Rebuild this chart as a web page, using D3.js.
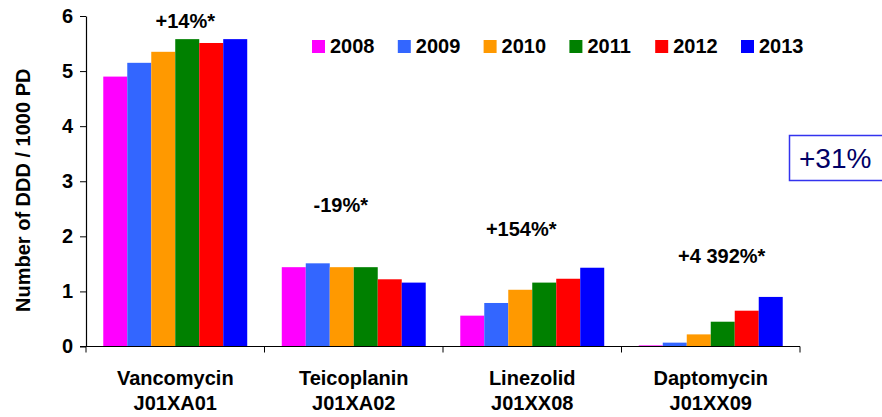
<!DOCTYPE html>
<html lang="en">
<head>
    <meta charset="UTF-8">
    <title>DDD per 1000 PD, 2008-2013</title>
    <script src="https://d3js.org/d3.v7.min.js"></script>
    <style>
        body { margin: 0; background: #fff; }
        svg text { font-family: "Liberation Sans", Arial, Helvetica, sans-serif; }
    </style>
</head>
<body>

<div id="chart"></div>
<script>

  // Data
  const drugs = ["Vancomycin", "Teicoplanin", "Linezolid", "Daptomycin"];
  const atcCodes = ["J01XA01", "J01XA02", "J01XX08", "J01XX09"];
  const years = ["2008", "2009", "2010", "2011", "2012", "2013"];
  const yearColors = ["#ff00ff", "#3366ff", "#ff9900", "#008000", "#ff0000", "#0000ff"];
  const values = [
    [4.90, 5.15, 5.35, 5.58, 5.51, 5.58],  // Vancomycin
    [1.44, 1.51, 1.44, 1.44, 1.22, 1.16],  // Teicoplanin
    [0.56, 0.79, 1.03, 1.16, 1.23, 1.43],  // Linezolid
    [0.02, 0.07, 0.22, 0.45, 0.65, 0.90]   // Daptomycin
  ];
  const changeLabels = ["+14%*", "-19%*", "+154%*", "+4 392%*"];
  const changeLevels = [5.78, 2.45, 2.0, 1.51];  // where the labels sit, in axis units
  const yTicks = [0, 1, 2, 3, 4, 5, 6];
  const totalChange = "+31%";

  const width = 882, height = 417;
  const margin = { top: 16, right: 82, bottom: 70, left: 86 };

  const svg = d3.select("#chart")
    .append("svg")
      .attr("width", width)
      .attr("height", height);

  // Scales
  const x0 = d3.scaleBand()
    .domain(drugs)
    .range([margin.left, width - margin.right])
    .padding(0);

  const x1 = d3.scaleBand()
    .domain(years)
    .range([0, x0.bandwidth()])
    .paddingInner(0)
    .paddingOuter(0.72);

  const y = d3.scaleLinear()
    .domain([0, 6])
    .range([height - margin.bottom - 0.5, margin.top]);

  // Bars
  const groups = svg.selectAll(".drug")
    .data(drugs)
    .join("g")
      .attr("class", "drug")
      .attr("transform", d => `translate(${x0(d)},0)`);

  groups.selectAll("rect")
    .data((d, i) => years.map((yr, j) => ({ year: yr, value: values[i][j], color: yearColors[j] })))
    .join("rect")
      .attr("x", d => x1(d.year))
      .attr("y", d => y(d.value))
      .attr("width", x1.bandwidth())
      .attr("height", d => y(0) - y(d.value))
      .attr("fill", d => d.color);

  // Y axis
  const yAxis = svg.append("g")
    .attr("transform", `translate(${margin.left},0)`)
    .call(d3.axisLeft(y).tickValues(yTicks).tickFormat(d3.format("d"))
      .tickSize(6).tickPadding(7).tickSizeOuter(0));
  yAxis.select(".domain").attr("stroke", "#000").attr("stroke-width", 1.2);
  yAxis.selectAll(".tick line").attr("stroke", "#000");
  yAxis.selectAll(".tick text")
    .attr("fill", "#000")
    .style("font-size", "20px")
    .style("font-weight", "bold");

  // X axis: baseline plus boundary ticks between categories
  const xAxis = svg.append("g")
    .attr("transform", `translate(0,${y(0)})`);
  xAxis.append("line")
    .attr("x1", margin.left - 6)
    .attr("x2", x0.range()[1])
    .attr("stroke", "#000")
    .attr("stroke-width", 1.2);
  const boundaries = drugs.map(d => x0(d)).concat([x0.range()[1]]);
  xAxis.selectAll(".bound")
    .data(boundaries)
    .join("line")
      .attr("class", "bound")
      .attr("x1", d => d).attr("x2", d => d)
      .attr("y1", 0).attr("y2", 6)
      .attr("stroke", "#000");

  // Category labels (two lines)
  const catLabels = svg.selectAll(".cat")
    .data(drugs)
    .join("text")
      .attr("class", "cat")
      .attr("text-anchor", "middle")
      .style("font-size", "20px")
      .style("font-weight", "bold")
      .attr("fill", "#000");
  catLabels.append("tspan")
    .attr("x", d => x0(d) + x0.bandwidth() / 2)
    .attr("y", 385)
    .text(d => d);
  catLabels.append("tspan")
    .attr("x", d => x0(d) + x0.bandwidth() / 2)
    .attr("y", 410)
    .text((d, i) => atcCodes[i]);

  // Y axis title
  svg.append("text")
    .attr("transform", `translate(30,${(margin.top + y(0)) / 2 + 9}) rotate(-90)`)
    .attr("text-anchor", "middle")
    .style("font-size", "20px")
    .style("font-weight", "bold")
    .attr("fill", "#000")
    .text("Number of DDD / 1000 PD");

  // Change annotations
  const labelShift = [10, -13, -11, 11];
  svg.selectAll(".chg")
    .data(drugs)
    .join("text")
      .attr("class", "chg")
      .attr("text-anchor", "middle")
      .attr("x", (d, i) => x0(d) + x0.bandwidth() / 2 + labelShift[i])
      .attr("y", (d, i) => y(changeLevels[i]))
      .style("font-size", "20px")
      .style("font-weight", "bold")
      .attr("fill", "#000")
      .text((d, i) => changeLabels[i]);

  // Legend
  const legend = svg.append("g")
    .attr("transform", "translate(312,40)");
  const item = legend.selectAll(".item")
    .data(years)
    .join("g")
      .attr("class", "item")
      .attr("transform", (d, i) => `translate(${i * 85.8},0)`);
  item.append("rect")
    .attr("width", 13)
    .attr("height", 13)
    .attr("fill", (d, i) => yearColors[i]);
  item.append("text")
    .attr("x", 18)
    .attr("y", 13)
    .style("font-size", "20px")
    .style("font-weight", "bold")
    .attr("fill", "#000")
    .text(d => d);

  // Overall change box
  svg.append("rect")
    .attr("x", 789.5)
    .attr("y", 135.5)
    .attr("width", 100)
    .attr("height", 45)
    .attr("fill", "#fff")
    .attr("stroke", "#3333ee")
    .attr("stroke-width", 1.5);
  svg.append("text")
    .attr("x", 799)
    .attr("y", 168)
    .style("font-size", "28px")
    .attr("fill", "#000066")
    .text(totalChange);

</script>

</body>
</html>
